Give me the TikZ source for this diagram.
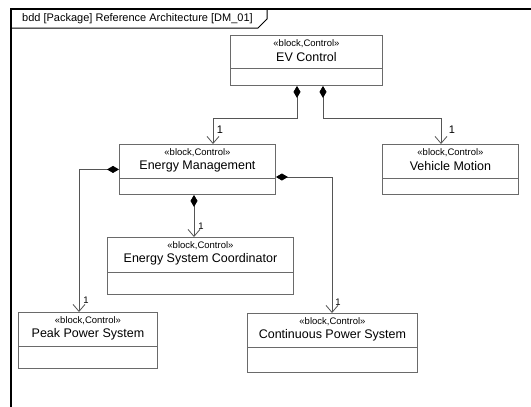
\documentclass[tikz,border=0pt]{standalone}
\usepackage{fontspec}
\setmainfont{Liberation Sans}
\usetikzlibrary{arrows.meta,calc}
\definecolor{boxline}{HTML}{6A6A6A}
\definecolor{conline}{HTML}{555555}
\tikzset{
  blk/.style={draw=boxline, line width=0.9pt, fill=white, inner sep=0pt},
  blkline/.style={draw=boxline, line width=0.9pt},
  stereo/.style={font=\fontsize{9.5}{10}\selectfont, inner sep=0pt},
  bname/.style={font=\fontsize{12.5}{14}\selectfont, inner sep=0pt},
  comp/.style={draw=conline, line width=0.8pt,
    {Diamond[length=12pt,width=7pt,fill=black,color=black]}-{Straight Barb[length=7pt,width=12pt,color=conline]}},
  mult/.style={font=\fontsize{11}{12}\selectfont, inner sep=0pt},
  smult/.style={font=\fontsize{9.5}{10}\selectfont, inner sep=0pt},
}
\newcommand\umlblock[7]{%
  \node[blk, minimum width=#4pt, minimum height=#5pt, anchor=north west] (#1) at (#2,#3) {};
  \draw[blkline] (#1.west |- 0,#6) -- (#1.east |- 0,#6);
  \node[stereo] (#1-st) at ($(#1.north)+(0,8.5)$) {«block,Control»};
  \node[bname] (#1-nm) at ($(#1.north)+(0,22)$) {#7};
}
\begin{document}
\begin{tikzpicture}[x=1pt,y=-1pt]
\useasboundingbox (0,0) rectangle (531,407);
\fill[white] (0,0) rectangle (531,407);
% frame
\draw[line width=2pt, black] (11,410) -- (11,9) -- (535,9);
\draw[line width=1pt, black] (11,28) -- (258,28) -- (267,19) -- (267,9);
\node[font=\fontsize{11}{12}\selectfont, anchor=west, inner sep=0pt] (title) at (22,18.5) {bdd [Package] Reference Architecture [DM\_01]};
% blocks
\umlblock{ev}{230}{35}{152}{50}{68}{EV Control}
\umlblock{em}{119}{144}{156}{50}{178}{Energy Management}
\umlblock{esc}{107}{237}{186}{57}{272}{Energy System Coordinator}
\umlblock{pps}{18}{312}{139}{56}{346}{Peak Power System}
\umlblock{cps}{247}{313}{170}{59}{347}{Continuous Power System}
\umlblock{vm}{382}{144}{136}{50}{178}{Vehicle Motion}
% connectors
\draw[comp] (297,0 |- ev.south) -- (297,118) -| (213,0 |- em.north);
\draw[comp] (323,0 |- ev.south) -- (323,118) -| (441,0 |- vm.north);
\draw[comp] (em.west) -| (79,0 |- pps.north);
\draw[comp] (194,0 |- em.south) -- (194,0 |- esc.north);
\draw[comp] (em.east |- 0,177) -| (332,0 |- cps.north);
% multiplicities
\node[mult] (m1) at (220,130) {1};
\node[mult] (m2) at (452,130) {1};
\node[smult] (m3) at (201,226) {1};
\node[smult] (m4) at (86,300) {1};
\node[smult] (m5) at (338,302) {1};
\end{tikzpicture}
\end{document}
